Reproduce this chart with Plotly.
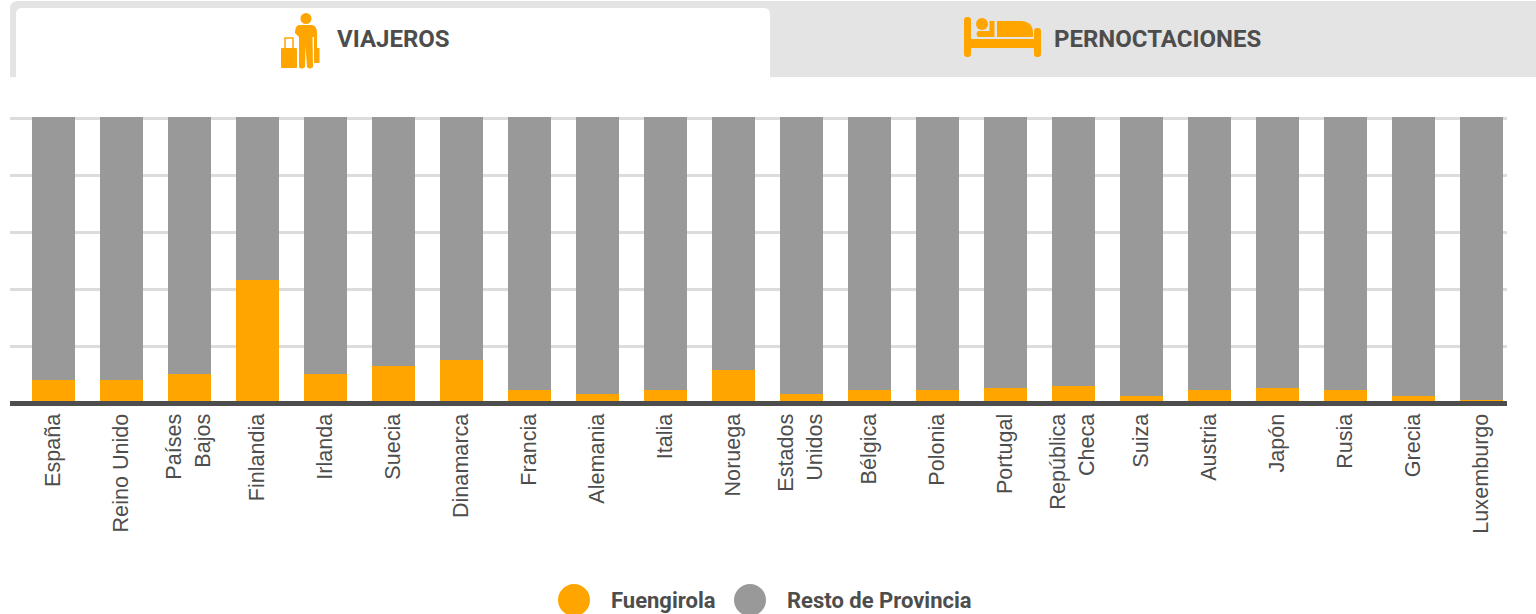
import plotly.graph_objects as go

categories = ["España", "Reino Unido", "Países<br>Bajos", "Finlandia", "Irlanda", "Suecia", "Dinamarca",
              "Francia", "Alemania", "Italia", "Noruega", "Estados<br>Unidos", "Bélgica", "Polonia",
              "Portugal", "República<br>Checa", "Suiza", "Austria", "Japón", "Rusia", "Grecia", "Luxemburgo"]
fuengirola = [8.2, 8.2, 10.5, 43.5, 10.5, 13.3, 15.4, 4.8, 3.4, 4.8, 11.8, 3.4, 4.8, 4.8, 5.5, 6.2, 2.7, 4.8, 5.5, 4.8, 2.7, 1.3]
resto = [100.5 - v for v in fuengirola]
tab_labels = ["VIAJEROS", "PERNOCTACIONES"]
legend_labels = ["Fuengirola", "Resto de Provincia"]

W, H = 1536, 614
ORANGE, GREY, TEXT = "#ffa500", "#999999", "#4d4d4d"
TAB = "#e4e4e4"

def px_path(cmds):
    out = []
    for c in cmds:
        if isinstance(c, str):
            out.append(c)
        else:
            out.append(f"{c[0]/W:.6f},{1-c[1]/H:.6f}")
    return " ".join(out)

def rect(x0, y0, x1, y1, color, layer="below", **kw):
    return dict(type="rect", xref="paper", yref="paper", x0=x0/W, x1=x1/W, y0=1-y0/H, y1=1-y1/H,
                fillcolor=color, line_width=0, layer=layer, **kw)

def circle(cx, cy, r, color, layer="above"):
    return dict(type="circle", xref="paper", yref="paper", x0=(cx-r)/W, x1=(cx+r)/W, y0=1-(cy-r)/H, y1=1-(cy+r)/H,
                fillcolor=color, line_width=0, layer=layer)

def path(d, color, layer="above", line=0):
    return dict(type="path", xref="paper", yref="paper", path=d, fillcolor=color,
                line=dict(width=line, color=color), layer=layer)

def rrect(x0, y0, x1, y1, r):
    return px_path(["M", (x0+r, y0), "L", (x1-r, y0), "Q", (x1, y0), (x1, y0+r), "L", (x1, y1-r), "Q", (x1, y1), (x1-r, y1),
                    "L", (x0+r, y1), "Q", (x0, y1), (x0, y1-r), "L", (x0, y0+r), "Q", (x0, y0), (x0+r, y0), "Z"])

shapes = [
    # tabs
    rect(770, 1, 1536, 77, TAB),
    path(px_path(["M", (10, 77), "L", (10, 9), "Q", (10, 1), (18, 1), "L", (770, 1), "L", (770, 77), "Z"]), TAB, "below"),
    path(px_path(["M", (16, 77), "L", (16, 14), "Q", (16, 8), (22, 8), "L", (764, 8), "Q", (770, 8), (770, 14),
                  "L", (770, 77), "Z"]), "#ffffff", "below"),
    # traveller icon
    circle(306, 18.5, 5.5, ORANGE),
    path(px_path(["M", (299, 25), "L", (312, 25), "Q", (317, 26), (317, 33), "L", (317, 48), "L", (314, 48), "L", (314, 37),
                  "L", (312.5, 37), "L", (313, 67), "Q", (309, 70), (307, 67), "L", (305.5, 46), "L", (305, 67),
                  "Q", (301, 70), (299, 67), "L", (299, 37), "L", (295, 33), "Q", (295, 26), (299, 25), "Z"]), ORANGE),
    path(rrect(281, 48, 297, 68, 1), ORANGE),
    dict(type="path", xref="paper", yref="paper", path=px_path(["M", (285, 48), "L", (285, 38), "L", (293, 38), "L", (293, 48)]),
         line=dict(width=1.5, color=ORANGE), layer="above"),
    rect(314, 48, 319.5, 63, ORANGE, "above"),
    # bed icon
    path(rrect(964, 17, 971, 57, 3), ORANGE),
    path(rrect(1034, 28, 1041, 57, 3), ORANGE),
    rect(970, 39, 1035, 48, ORANGE, "above"),
    circle(982, 24, 6, ORANGE),
    path(px_path(["M", (978, 31), "L", (989.5, 31), "L", (989.5, 21), "L", (994.5, 21), "L", (994.5, 37), "L", (978, 37),
                  "Q", (975, 34), (978, 31), "Z"]), ORANGE),
    path(px_path(["M", (997, 21), "L", (1022, 21), "Q", (1033, 22), (1033, 33), "L", (1033, 37), "L", (997, 37), "Z"]), ORANGE),
    # legend markers
    circle(574, 600, 16, ORANGE),
    circle(750, 600, 16, GREY),
]

def label(text, x, y, size):
    return dict(text=f"<b>{text}</b>", x=x/W, y=1-y/H, xref="paper", yref="paper", xanchor="left", yanchor="middle",
                showarrow=False, font=dict(family="Roboto", size=size, color=TEXT), xshift=-2)

annotations = [
    label(tab_labels[0], 337, 39, 24),
    label(tab_labels[1], 1054, 39, 24),
    label(legend_labels[0], 611, 600, 22),
    label(legend_labels[1], 787, 600, 22),
]

Y0, PX = 403.5, 2.85
YMAX = 101.0
AXIS_TOP = 401.0
YMIN = (Y0 - AXIS_TOP) / PX

fig = go.Figure()
fig.add_bar(x=categories, y=fuengirola, name=legend_labels[0], marker=dict(color=ORANGE, line_width=0), width=0.632)
fig.add_bar(x=categories, y=resto, name=legend_labels[1], marker=dict(color=GREY, line_width=0), width=0.632)
fig.update_layout(
    barmode="stack", width=W, height=H, autosize=False, showlegend=False,
    margin=dict(l=0, r=0, t=0, b=0), paper_bgcolor="#ffffff", plot_bgcolor="#ffffff",
    shapes=shapes, annotations=annotations,
    xaxis=dict(domain=[10/W, 1507/W], range=[-0.64, 21.375], type="category", tickangle=-90, ticks="",
               tickfont=dict(family="Liberation Sans", size=21.6, color=TEXT), showgrid=False,
               showline=True, linecolor=TEXT, linewidth=5, automargin=False, ticklabelstandoff=-1, ticklabelshift=-1),
    yaxis=dict(domain=[1-AXIS_TOP/H, 1-(Y0-PX*YMAX)/H], range=[YMIN, YMAX], tickvals=[20, 40, 60, 80, 100],
               showticklabels=False, ticks="",
               gridcolor="#dcdcdc", gridwidth=3, zeroline=False, showline=False, automargin=False),
)
fig.write_html("out.html", config=dict(displayModeBar=False),
               post_script="document.documentElement.style.overflow='hidden';document.body.style.margin='0';")
